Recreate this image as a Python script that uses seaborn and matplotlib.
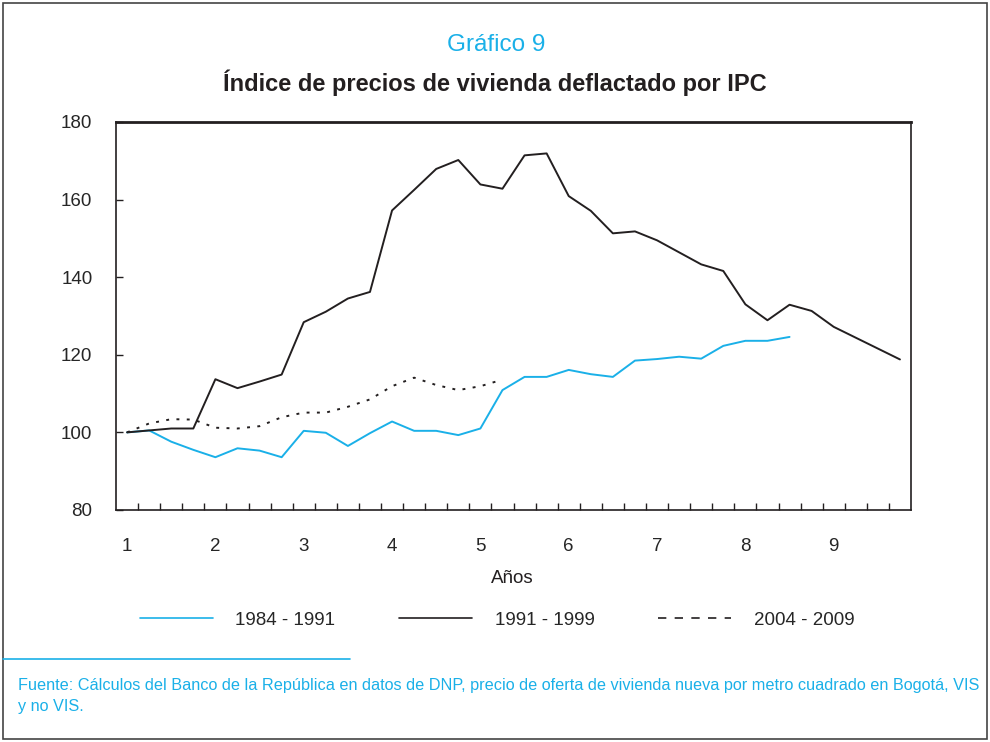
import numpy as np
import pandas as pd
import matplotlib.pyplot as plt
import seaborn as sns
from matplotlib.patches import Rectangle
from matplotlib.lines import Line2D

# quarterly index values (base 100 at first quarter)
serie_1984_1991 = [100, 100.5, 97.6, 95.5, 93.6, 95.9, 95.3, 93.6, 100.4, 99.9,
                   96.5, 99.8, 102.8, 100.4, 100.4, 99.3, 101.0, 110.9, 114.3, 114.3,
                   116.1, 115.0, 114.3, 118.5, 118.9, 119.5, 119.0, 122.3, 123.6, 123.6,
                   124.6]
serie_1991_1999 = [100, 100.5, 101.0, 101.0, 113.7, 111.4, 113.1, 114.9, 128.4, 131.1,
                   134.5, 136.2, 157.2, 162.5, 167.9, 170.2, 163.9, 162.8, 171.4, 171.9,
                   160.9, 157.1, 151.3, 151.8, 149.5, 146.4, 143.3, 141.6, 133.0, 128.9,
                   132.9, 131.3, 127.2, 124.4, 121.6, 118.8]
serie_2004_2009 = [100, 102.3, 103.4, 103.3, 101.2, 101.0, 101.6, 103.9, 105.1, 105.1,
                   106.6, 108.5, 111.9, 114.1, 112.2, 110.9, 111.9, 113.6]

periodos = ["1984 - 1991", "1991 - 1999", "2004 - 2009"]
series = [serie_1984_1991, serie_1991_1999, serie_2004_2009]
anios = [1, 2, 3, 4, 5, 6, 7, 8, 9]
y_ticks = [80, 100, 120, 140, 160, 180]

cian = "#1AB0E8"
negro = "#231F20"

rows = []
for per, vals in zip(periodos, series):
    for i, v in enumerate(vals):
        rows.append({"anio": 1 + i / 4, "indice": v, "periodo": per})
df = pd.DataFrame(rows)

sns.set_style("white")
plt.rcParams["font.family"] = ["Liberation Sans", "DejaVu Sans"]

fig = plt.figure(figsize=(9.9, 7.42), dpi=100)
ax = fig.add_axes([0.1172, 0.3127, 0.803, 0.5229])

sns.lineplot(data=df, x="anio", y="indice", hue="periodo", style="periodo",
             palette={periodos[0]: cian, periodos[1]: negro, periodos[2]: negro},
             dashes={periodos[0]: "", periodos[1]: "", periodos[2]: (1.5, 3.8)},
             linewidth=1.4, ax=ax, legend=False)

ax.set_xlim(0.875, 9.875)
ax.set_ylim(80, 180)
ax.set_xticks(anios)
ax.set_xticklabels([str(a) for a in anios], fontsize=13.5)
ax.set_xticks(np.arange(1.125, 9.7, 0.25), minor=True)
ax.tick_params(axis="x", which="major", bottom=True, length=0, pad=20)
ax.tick_params(axis="x", which="minor", bottom=True, direction="in", length=5,
               width=1, color=negro)
ax.set_yticks(y_ticks)
ax.set_yticklabels([str(t) for t in y_ticks], fontsize=13.5)
ax.tick_params(axis="y", left=True, direction="in", length=5, width=1, color=negro,
               pad=17)
ax.set_xlabel("")
ax.set_ylabel("")
for s in ax.spines.values():
    s.set_color(negro)
    s.set_linewidth(1.2)
ax.spines["top"].set_linewidth(2)

fig.text(0.501, 0.939, "Gráfico 9", color=cian, fontsize=17.5, ha="center", va="center")
fig.text(0.5, 0.888, "Índice de precios de vivienda deflactado por IPC", color=negro,
         fontsize=17, fontweight="bold", ha="center", va="center")
fig.text(0.517, 0.2197, "Años", color=negro, fontsize=13.5, ha="center", va="center")

handles = [Line2D([], [], color=cian, lw=1.2),
           Line2D([], [], color=negro, lw=1.2),
           Line2D([], [], color=negro, lw=1.2, linestyle=(0, (5, 5)))]
fig.legend(handles, periodos, loc="center", bbox_to_anchor=(0.502, 0.164), ncol=3,
           frameon=False, fontsize=13.5, handlelength=3.9, columnspacing=3.4,
           handletextpad=1.2)

fig.add_artist(Line2D([0.003, 0.3535], [0.1119, 0.1119], color=cian, lw=1.2))
fig.text(0.018, 0.0865,
         "Fuente: Cálculos del Banco de la República en datos de DNP, precio de oferta de vivienda nueva por metro cuadrado en Bogotá, VIS\ny no VIS.",
         color=cian, fontsize=11.7, ha="left", va="top", linespacing=1.5)

fig.add_artist(Rectangle((0.003, 0.004), 0.994, 0.992, transform=fig.transFigure,
                         fill=False, edgecolor="#444444", lw=1.2))

fig.savefig("out.png", dpi=100)
